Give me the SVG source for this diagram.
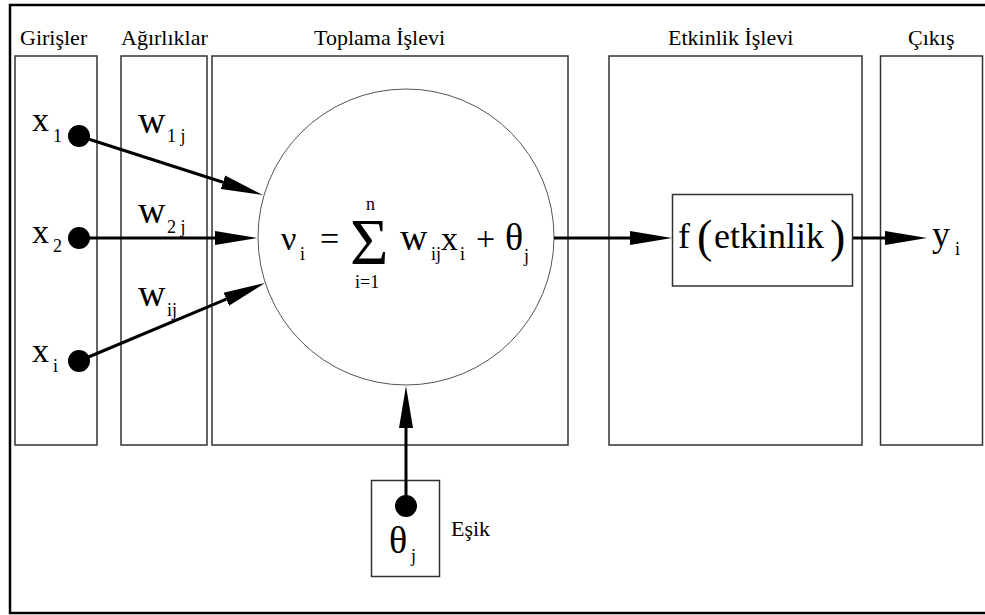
<svg xmlns="http://www.w3.org/2000/svg" width="985" height="615" viewBox="0 0 985 615">
<style>
.t{font-family:"Liberation Serif","Times New Roman",serif;fill:#000}
.title{font-size:22px}
.m{font-size:34px}
.w{font-size:38px}
.s{font-size:18px}
.box{fill:none;stroke:#333;stroke-width:1.5}
.con{stroke:#000;stroke-width:3;fill:none;marker-end:url(#ah)}
.dot{fill:#000}
</style>
<defs>
<marker id="ah" markerUnits="userSpaceOnUse" markerWidth="44" markerHeight="16" refX="0" refY="7" orient="auto" viewBox="0 0 44 14">
<path d="M0,0 L42,7 L0,14 z" fill="#000"/>
</marker>
</defs>
<rect x="0" y="0" width="985" height="615" fill="#fff"/>
<rect x="10" y="5" width="990" height="608" fill="none" stroke="#000" stroke-width="2.5"/>

<g id="girisler">
<rect class="box" x="15" y="56" width="82" height="389"/>
<text class="t title" x="20" y="45">Girişler</text>
</g>
<g id="agirliklar">
<rect class="box" x="121" y="56" width="86" height="389"/>
<text class="t title" x="121" y="45">Ağırlıklar</text>
</g>
<g id="toplama">
<rect class="box" x="212" y="56" width="356" height="389"/>
<text class="t title" x="314" y="45">Toplama İşlevi</text>
</g>
<g id="etkinlik">
<rect class="box" x="609" y="56" width="253" height="389"/>
<text class="t title" x="668" y="45">Etkinlik İşlevi</text>
</g>
<g id="cikis">
<rect class="box" x="880.5" y="56" width="102" height="389"/>
<text class="t title" x="908" y="45">Çıkış</text>
</g>

<g id="x1">
<circle class="dot" cx="79" cy="136" r="11"/>
<text class="t m" x="32" y="131">x</text><text class="t s" x="53" y="142">1</text>
</g>
<g id="x2">
<circle class="dot" cx="79" cy="238" r="11"/>
<text class="t m" x="32" y="243">x</text><text class="t s" x="53" y="252">2</text>
</g>
<g id="xi">
<circle class="dot" cx="79" cy="361" r="11"/>
<text class="t m" x="32" y="362">x</text><text class="t s" x="53" y="372">i</text>
</g>

<g id="w1j"><text class="t w" x="138" y="133">w</text><text class="t s" x="167" y="142">1 j</text></g>
<g id="w2j"><text class="t w" x="138" y="223">w</text><text class="t s" x="167" y="233">2 j</text></g>
<g id="wij"><text class="t w" x="138" y="306">w</text><text class="t s" x="167" y="316">ij</text></g>

<g id="toplam">
<circle cx="406" cy="237" r="148" fill="none" stroke="#555" stroke-width="1"/>
<text class="t m" x="281" y="250">ν</text><text class="t s" x="300" y="260">i</text>
<text class="t m" x="320" y="250">=</text>
<text class="t" x="350" y="264" font-size="66">Σ</text>
<text class="t s" x="366" y="210">n</text>
<text class="t s" x="355" y="288">i=1</text>
<text class="t w" x="400" y="250">w</text><text class="t s" x="431" y="260">ij</text>
<text class="t m" x="441" y="250">x</text><text class="t s" x="460" y="260">i</text>
<text class="t m" x="476" y="250">+</text>
<text class="t" x="505" y="250" font-size="38">θ</text><text class="t s" x="524" y="262">j</text>
</g>

<g id="f">
<rect class="box" x="672.5" y="194.5" width="180" height="91.5"/>
<text class="t" x="678" y="248" font-size="36">f</text>
<text class="t" x="697" y="252" font-size="46">(</text>
<text class="t" x="714" y="248" font-size="36">etkinlik</text>
<text class="t" x="830" y="252" font-size="46">)</text>
</g>

<g id="yi"><text class="t" x="932" y="246" font-size="36">y</text><text class="t s" x="955" y="255">i</text></g>

<g id="esik">
<rect class="box" x="371.5" y="480.5" width="68" height="96"/>
<circle class="dot" cx="406" cy="506" r="11"/>
<text class="t" x="389" y="553" font-size="38">θ</text><text class="t s" x="411" y="562">j</text>
<text class="t" x="451" y="536" font-size="22">Eşik</text>
</g>

<g id="connectors">
<line class="con" x1="79" y1="136" x2="223" y2="182.2"/>
<line class="con" x1="79" y1="238" x2="215" y2="238"/>
<line class="con" x1="79" y1="361" x2="226.3" y2="299.2"/>
<line class="con" x1="554" y1="238" x2="630" y2="238"/>
<line class="con" x1="853" y1="238" x2="885" y2="238"/>
<line class="con" x1="406" y1="506" x2="406" y2="428"/>
</g>
</svg>
